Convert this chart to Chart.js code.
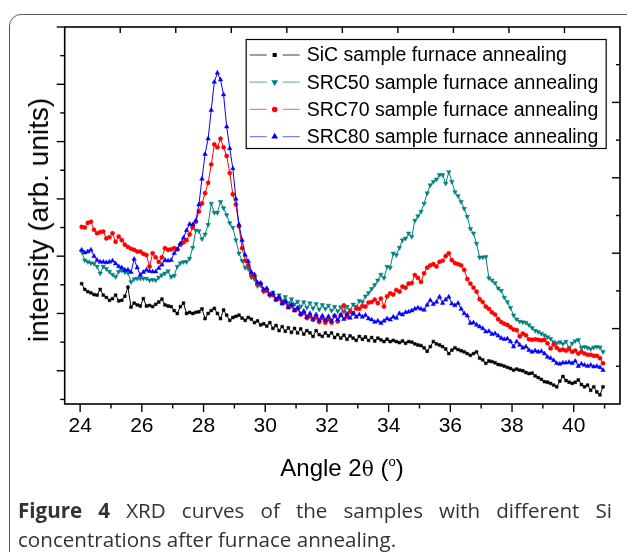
<!DOCTYPE html>
<html><head><meta charset="utf-8">
<script src="https://cdn.jsdelivr.net/npm/chart.js@4/dist/chart.umd.min.js"></script>
<style>
html,body{margin:0;padding:0;background:#fff;}
body{width:627px;height:552px;position:relative;overflow:hidden;font-family:"Liberation Sans",Arial,sans-serif;}
#frame{position:absolute;left:9px;top:14px;width:700px;height:700px;border:1.5px solid #5a5a5a;border-radius:12px;box-sizing:border-box;}
#wrap{position:absolute;left:0;top:0;width:627px;height:500px;}
#ytitle{position:absolute;left:39px;top:220px;transform:translate(-50%,-50%) rotate(-90deg);white-space:nowrap;font-size:28px;color:#000;}
#xtitle{position:absolute;left:342px;top:468px;transform:translate(-50%,-50%);white-space:nowrap;font-size:24px;color:#000;}
#xtitle .th{font-family:"DejaVu Serif","Liberation Serif",serif;font-size:20px;}
#xtitle sup{font-size:13px;vertical-align:10px;}
.cap{position:absolute;left:18px;font-family:"Open Sans",sans-serif;font-size:20.6px;color:#333;white-space:nowrap;}
#cap1{top:496px;width:594px;text-align:justify;text-align-last:justify;white-space:normal;}
#cap2{top:525px;}
</style></head>
<body>
<div id="frame"></div>
<div id="wrap"><canvas id="c" width="627" height="500"></canvas></div>
<div id="ytitle">intensity (arb. units)</div>
<div id="xtitle">Angle 2<span class="th">θ</span> (<sup>o</sup>)</div>
<div class="cap" id="cap1"><b>Figure 4</b> XRD curves of the samples with different Si</div>
<div class="cap" id="cap2">concentrations after furnace annealing.</div>
<script>
const angles = [
24.05,24.15,24.25,24.35,24.45,24.55,24.65,24.75,24.85,24.95,
25.05,25.15,25.25,25.35,25.45,25.55,25.65,25.75,25.85,25.95,
26.05,26.15,26.25,26.35,26.45,26.55,26.65,26.75,26.85,26.95,
27.05,27.15,27.25,27.35,27.45,27.55,27.65,27.75,27.85,27.95,
28.05,28.15,28.25,28.35,28.45,28.55,28.65,28.75,28.85,28.95,
29.05,29.15,29.25,29.35,29.45,29.55,29.65,29.75,29.85,29.95,
30.05,30.15,30.25,30.35,30.45,30.55,30.65,30.75,30.85,30.95,
31.05,31.15,31.25,31.35,31.45,31.55,31.65,31.75,31.85,31.95,
32.05,32.15,32.25,32.35,32.45,32.55,32.65,32.75,32.85,32.95,
33.05,33.15,33.25,33.35,33.45,33.55,33.65,33.75,33.85,33.95,
34.05,34.15,34.25,34.35,34.45,34.55,34.65,34.75,34.85,34.95,
35.05,35.15,35.25,35.35,35.45,35.55,35.65,35.75,35.85,35.95,
36.05,36.15,36.25,36.35,36.45,36.55,36.65,36.75,36.85,36.95,
37.05,37.15,37.25,37.35,37.45,37.55,37.65,37.75,37.85,37.95,
38.05,38.15,38.25,38.35,38.45,38.55,38.65,38.75,38.85,38.95,
39.05,39.15,39.25,39.35,39.45,39.55,39.65,39.75,39.85,39.95,
40.05,40.15,40.25,40.35,40.45,40.55,40.65,40.75,40.85,40.95
];
const sic = [
1.52,1.42,1.38,1.36,1.33,1.32,1.42,1.32,1.28,1.23,
1.26,1.32,1.22,1.23,1.30,1.46,1.11,1.18,1.15,1.13,
1.26,1.13,1.14,1.12,1.16,1.20,1.25,1.15,1.13,1.12,
1.05,1.00,1.12,1.18,1.00,1.02,1.00,1.02,1.03,1.08,
0.91,1.00,1.05,1.09,1.00,0.91,1.06,0.97,0.88,0.93,
0.95,0.97,0.92,0.88,0.93,0.90,0.84,0.87,0.80,0.82,
0.78,0.84,0.74,0.79,0.70,0.77,0.69,0.75,0.67,0.74,
0.66,0.73,0.64,0.70,0.66,0.60,0.70,0.63,0.60,0.66,
0.61,0.66,0.58,0.63,0.57,0.62,0.55,0.61,0.57,0.53,
0.60,0.55,0.59,0.53,0.58,0.52,0.57,0.54,0.51,0.55,
0.51,0.53,0.51,0.49,0.52,0.48,0.51,0.50,0.47,0.45,
0.44,0.40,0.34,0.42,0.51,0.47,0.45,0.42,0.38,0.30,
0.36,0.40,0.37,0.35,0.33,0.30,0.27,0.30,0.33,0.22,
0.19,0.13,0.17,0.16,0.14,0.11,0.10,0.08,0.06,0.04,
0.01,0.03,0.01,0.00,-0.03,-0.05,-0.04,-0.09,-0.12,-0.15,
-0.19,-0.20,-0.22,-0.25,-0.28,-0.18,-0.10,-0.17,-0.20,-0.22,
-0.20,-0.16,-0.24,-0.28,-0.25,-0.34,-0.28,-0.37,-0.42,-0.28
];
const src50 = [
2.08,1.93,1.90,1.88,1.87,1.82,1.70,1.82,1.78,1.73,
1.68,1.64,1.73,1.75,1.72,1.71,1.55,1.60,1.61,1.61,
1.61,1.61,1.58,1.59,1.58,1.63,1.67,1.70,1.74,1.64,
1.66,1.82,1.88,1.90,1.90,1.96,2.15,2.45,2.44,2.30,
2.38,2.55,2.92,2.76,2.76,2.95,2.84,2.72,2.58,2.50,
2.28,2.05,1.92,1.80,1.78,1.63,1.60,1.48,1.49,1.38,
1.40,1.31,1.37,1.26,1.32,1.22,1.29,1.18,1.25,1.16,
1.21,1.12,1.20,1.10,1.18,1.09,1.17,1.07,1.15,1.08,
1.14,1.05,1.12,1.04,1.11,1.03,1.12,1.06,1.16,1.12,
1.22,1.20,1.30,1.36,1.43,1.50,1.58,1.68,1.62,1.82,
1.80,2.05,2.02,2.15,2.28,2.31,2.40,2.34,2.62,2.70,
2.78,2.92,3.10,3.24,3.30,3.34,3.42,3.42,3.27,3.47,
3.30,3.12,3.05,2.95,2.83,2.69,2.48,2.40,2.22,1.98,
1.98,1.99,1.62,1.58,1.53,1.44,1.40,1.28,1.20,1.10,
0.97,0.90,0.86,0.85,0.84,0.80,0.75,0.70,0.68,0.65,
0.62,0.59,0.56,0.50,0.48,0.50,0.47,0.51,0.40,0.48,
0.52,0.54,0.40,0.42,0.40,0.38,0.41,0.42,0.41,0.33
];
const src70 = [
2.51,2.50,2.58,2.60,2.46,2.40,2.42,2.43,2.31,2.33,
2.40,2.25,2.34,2.28,2.20,2.16,2.13,2.11,2.08,2.08,
2.04,2.02,1.82,2.05,1.98,1.90,1.98,2.14,2.11,2.12,
2.14,2.12,2.20,2.24,2.28,2.38,2.50,2.60,2.78,2.92,
3.10,3.28,3.60,3.95,3.90,4.05,3.90,3.75,3.45,3.08,
2.90,2.52,2.14,1.92,1.84,1.68,1.64,1.51,1.52,1.39,
1.40,1.33,1.32,1.24,1.26,1.18,1.20,1.12,1.13,1.06,
1.08,0.98,1.01,0.92,0.95,0.89,0.93,0.85,0.92,0.84,
0.90,0.84,0.96,0.86,0.97,1.14,0.94,1.03,1.00,1.09,
1.08,1.13,1.12,1.19,1.20,1.24,1.18,1.26,1.12,1.30,
1.35,1.33,1.41,1.38,1.47,1.45,1.52,1.53,1.67,1.62,
1.55,1.70,1.80,1.84,1.86,1.82,1.90,1.92,2.00,2.05,
1.93,1.88,1.86,1.84,1.76,1.60,1.52,1.45,1.38,1.25,
1.20,1.12,1.08,1.02,0.98,0.90,0.85,0.82,0.80,0.76,
0.72,0.71,0.60,0.65,0.62,0.55,0.54,0.55,0.54,0.53,
0.54,0.48,0.39,0.46,0.40,0.36,0.37,0.35,0.38,0.33,
0.35,0.30,0.33,0.30,0.28,0.28,0.26,0.26,0.22,0.13
];
const src80 = [
2.11,2.06,2.08,2.11,2.00,1.93,1.90,1.90,1.89,1.90,
1.92,1.87,1.82,1.80,1.76,1.76,1.72,1.95,1.80,1.67,
1.72,1.76,1.74,1.73,1.73,1.79,1.85,1.93,1.92,1.93,
2.05,2.12,2.22,2.32,2.45,2.56,2.55,2.62,2.90,3.35,
3.78,4.05,4.55,5.04,5.20,5.08,4.82,4.26,3.88,3.53,
3.00,2.55,2.28,2.02,1.91,1.72,1.68,1.54,1.53,1.42,
1.44,1.33,1.35,1.24,1.29,1.17,1.21,1.10,1.16,1.05,
1.10,0.99,1.04,0.94,1.00,0.90,0.98,0.88,0.96,0.88,
0.95,0.87,0.96,0.89,0.97,0.90,0.99,0.92,1.00,0.94,
0.98,0.94,0.97,0.91,0.89,0.85,0.87,0.83,0.87,0.91,
0.89,0.94,0.92,1.00,0.98,1.02,1.03,1.05,1.08,1.10,
1.08,1.06,1.15,1.23,1.16,1.20,1.29,1.18,1.24,1.29,
1.17,1.14,1.18,1.08,1.00,0.96,0.83,0.84,0.80,0.77,
0.74,0.68,0.69,0.64,0.65,0.61,0.57,0.55,0.56,0.51,
0.42,0.51,0.45,0.40,0.42,0.36,0.33,0.35,0.33,0.34,
0.30,0.24,0.22,0.18,0.13,0.12,0.14,0.14,0.15,0.13,
0.17,0.08,0.12,0.10,0.08,0.10,0.07,0.08,0.06,0.01
];
const seriesLabels = ['SiC sample furnace annealing','SRC50 sample furnace annealing','SRC70 sample furnace annealing','SRC80 sample furnace annealing'];
const xTickLabels = [24,26,28,30,32,34,36,38,40];
const xMinorTicks = [25,27,29,31,33,35,37,39,41];
const yMajorTicks = [0,1,2,3,4,5,6];
const yMinorTicks = [-0.5,0.5,1.5,2.5,3.5,4.5,5.5];
const topTicks = [1,2,3,4,5,6,7,8,9];
const rightTicks = [1,2,3,4,5,6,7,8,9];

function mk(label, vals, color, faded, style, rot, r, order){
  return {label, data: vals.map((v,i)=>({x:angles[i], y:v})), borderColor:color, backgroundColor:color,
    borderWidth:1, pointStyle:style, pointRotation:rot, pointRadius:r, pointBorderWidth:0.5,
    pointBorderColor:color, pointBackgroundColor:color, order, fill:false, tension:0, _faded:faded};
}
const datasets = [
  mk(seriesLabels[0], sic, '#000000', 'rgba(0,0,0,0.5)', 'rect', 0, 2.0, 3),
  mk(seriesLabels[1], src50, '#008080', 'rgba(0,128,128,0.55)', 'triangle', 180, 2.6, 2),
  mk(seriesLabels[2], src70, '#ff0000', 'rgba(255,0,0,0.5)', 'circle', 0, 2.1, 1),
  mk(seriesLabels[3], src80, '#0000ff', 'rgba(0,0,255,0.5)', 'triangle', 0, 2.6, 0)
];

const axisDeco = {
  id:'axisDeco',
  afterDatasetsDraw(chart){
    const {ctx, chartArea:a, scales} = chart;
    ctx.save();
    ctx.strokeStyle = '#000';
    const ln=(x1,y1,x2,y2)=>{ctx.beginPath();ctx.moveTo(x1,y1);ctx.lineTo(x2,y2);ctx.stroke();};
    ctx.lineWidth = 1.4;
    xTickLabels.forEach(v=>{const x=scales.x.getPixelForValue(v); ln(x,a.bottom,x,a.bottom+8);});
    xMinorTicks.forEach(v=>{const x=scales.x.getPixelForValue(v); ln(x,a.bottom,x,a.bottom+4.5);});
    yMajorTicks.forEach(v=>{const y=scales.y.getPixelForValue(v); ln(a.left,y,a.left-8,y);});
    yMinorTicks.forEach(v=>{const y=scales.y.getPixelForValue(v); ln(a.left,y,a.left-4.5,y);});
    topTicks.forEach(v=>{const x=scales.x2.getPixelForValue(v); ln(x,a.top,x,a.top+6);});
    rightTicks.forEach(v=>{const y=scales.y2.getPixelForValue(v); ln(a.right,y,a.right-(v%2?4:8),y);});
    ctx.lineWidth = 1.6;
    ctx.strokeRect(a.left, a.top, a.right-a.left, a.bottom-a.top);
    ctx.restore();
  },
  afterDraw(chart){
    const {ctx, chartArea:a} = chart;
    const bx = a.left+181, by = a.top+12, bw = 360, bh = 109;
    ctx.save();
    ctx.fillStyle='#fff'; ctx.fillRect(bx,by,bw,bh);
    ctx.strokeStyle='#000'; ctx.lineWidth=1.2; ctx.strokeRect(bx+0.5,by+0.5,bw,bh);
    ctx.font='19.5px "Liberation Sans", Arial, sans-serif';
    ctx.textBaseline='middle';
    chart.data.datasets.forEach((d,i)=>{
      const cy = by+16+i*27.2;
      ctx.strokeStyle=d._faded; ctx.lineWidth=1.3;
      ctx.beginPath(); ctx.moveTo(bx+4,cy); ctx.lineTo(bx+21,cy); ctx.moveTo(bx+37,cy); ctx.lineTo(bx+54,cy); ctx.stroke();
      ctx.fillStyle=d.borderColor; ctx.strokeStyle=d.borderColor;
      Chart.helpers.drawPoint(ctx,{pointStyle:d.pointStyle, rotation:d.pointRotation, radius:d.pointRadius, borderWidth:0.5}, bx+29, cy);
      ctx.fillStyle='#000';
      ctx.fillText(d.label, bx+61, cy+1);
    });
    ctx.restore();
  }
};

new Chart(document.getElementById('c'), {
  type:'line',
  data:{datasets},
  options:{
    responsive:false, animation:false, devicePixelRatio:1,
    layout:{padding:{left:64.7, right:7, top:27, bottom:56}},
    plugins:{legend:{display:false}, tooltip:{enabled:false}},
    elements:{line:{borderJoinStyle:'round'}},
    scales:{
      x:{type:'linear', position:'bottom', min:23.5, max:41.5,
        afterBuildTicks:s=>{s.ticks = xTickLabels.map(v=>({value:v}));},
        afterFit:s=>{s.height=40;},
        grid:{display:false, drawTicks:false}, border:{display:false},
        ticks:{padding:10, color:'#000', font:{family:'"Liberation Sans", Arial, sans-serif', size:21}, maxRotation:0, autoSkip:false}},
      y:{type:'linear', position:'left', min:-0.58, max:6,
        afterFit:s=>{s.width=0;},
        grid:{display:false, drawTicks:false}, border:{display:false}, ticks:{display:false}},
      x2:{type:'linear', position:'top', min:0, max:10,
        afterFit:s=>{s.height=0;},
        grid:{display:false, drawTicks:false}, border:{display:false}, ticks:{display:false}},
      y2:{type:'linear', position:'right', min:0, max:10,
        afterFit:s=>{s.width=0;},
        grid:{display:false, drawTicks:false}, border:{display:false}, ticks:{display:false}}
    }
  },
  plugins:[axisDeco]
});
</script>
</body></html>
